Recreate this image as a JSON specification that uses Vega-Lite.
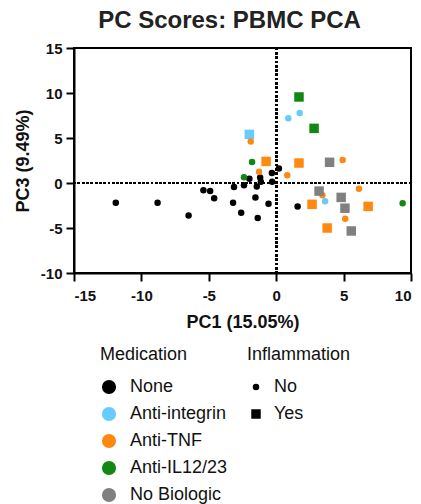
{
  "$schema": "https://vega.github.io/schema/vega-lite/v6.json",
  "autosize": {"type": "none"},
  "padding": {"left": 74, "top": 48, "right": 10, "bottom": 231},
  "width": 337,
  "height": 225,
  "title": {"text": "PC Scores: PBMC PCA", "font": "Liberation Sans", "fontSize": 24, "fontWeight": "bold", "color": "#222", "anchor": "middle", "dx": -13, "offset": 8},
  "config": {
    "view": {"stroke": "black", "strokeWidth": 2},
    "axis": {"domainColor": "black", "domainWidth": 2, "tickColor": "black", "tickWidth": 2, "tickSize": 8, "grid": false, "labelFont": "Liberation Sans", "labelFontSize": 15, "labelFontWeight": "bold", "labelColor": "#111", "titleFont": "Liberation Sans", "titleFontSize": 18, "titleFontWeight": "bold", "titleColor": "#111", "labelExpr": "datum.value"},
    "legend": {"titleFont": "Liberation Sans", "titleFontSize": 18, "titleFontWeight": "normal", "titleColor": "#111", "labelFont": "Liberation Sans", "labelFontSize": 18, "labelColor": "#111"}
  },
  "data": {"values": [
    {"PC1": -11.9, "PC3": -2.2, "Medication": "None", "Inflammation": "No"},
    {"PC1": -8.8, "PC3": -2.2, "Medication": "None", "Inflammation": "No"},
    {"PC1": -6.5, "PC3": -3.6, "Medication": "None", "Inflammation": "No"},
    {"PC1": -5.4, "PC3": -0.8, "Medication": "None", "Inflammation": "No"},
    {"PC1": -4.9, "PC3": -0.9, "Medication": "None", "Inflammation": "No"},
    {"PC1": -4.6, "PC3": -1.7, "Medication": "None", "Inflammation": "No"},
    {"PC1": -3.13, "PC3": -0.45, "Medication": "None", "Inflammation": "No"},
    {"PC1": -3.2, "PC3": -2.2, "Medication": "None", "Inflammation": "No"},
    {"PC1": -2.6, "PC3": -3.3, "Medication": "None", "Inflammation": "No"},
    {"PC1": -2.39, "PC3": -0.26, "Medication": "None", "Inflammation": "No"},
    {"PC1": -1.99, "PC3": 0.48, "Medication": "None", "Inflammation": "No"},
    {"PC1": -1.54, "PC3": -1.6, "Medication": "None", "Inflammation": "No"},
    {"PC1": -1.37, "PC3": -3.9, "Medication": "None", "Inflammation": "No"},
    {"PC1": -1.44, "PC3": -0.4, "Medication": "None", "Inflammation": "No"},
    {"PC1": -1.19, "PC3": 0.6, "Medication": "None", "Inflammation": "No"},
    {"PC1": -1.14, "PC3": 0.15, "Medication": "None", "Inflammation": "No"},
    {"PC1": -0.57, "PC3": -2.3, "Medication": "None", "Inflammation": "No"},
    {"PC1": -0.3, "PC3": 0.15, "Medication": "None", "Inflammation": "No"},
    {"PC1": -0.32, "PC3": 1.1, "Medication": "None", "Inflammation": "No"},
    {"PC1": 0.2, "PC3": 1.6, "Medication": "None", "Inflammation": "No"},
    {"PC1": 1.59, "PC3": -2.6, "Medication": "None", "Inflammation": "No"},
    {"PC1": -2.39, "PC3": 0.63, "Medication": "Anti-IL12/23", "Inflammation": "No"},
    {"PC1": -1.79, "PC3": 2.33, "Medication": "Anti-IL12/23", "Inflammation": "No"},
    {"PC1": 9.38, "PC3": -2.26, "Medication": "Anti-IL12/23", "Inflammation": "No"},
    {"PC1": 1.69, "PC3": 9.56, "Medication": "Anti-IL12/23", "Inflammation": "Yes"},
    {"PC1": 2.81, "PC3": 6.07, "Medication": "Anti-IL12/23", "Inflammation": "Yes"},
    {"PC1": 0.9, "PC3": 7.2, "Medication": "Anti-integrin", "Inflammation": "No"},
    {"PC1": 1.74, "PC3": 7.78, "Medication": "Anti-integrin", "Inflammation": "No"},
    {"PC1": 3.63, "PC3": -2.04, "Medication": "Anti-integrin", "Inflammation": "No"},
    {"PC1": -1.99, "PC3": 5.4, "Medication": "Anti-integrin", "Inflammation": "Yes"},
    {"PC1": -1.89, "PC3": 4.6, "Medication": "Anti-TNF", "Inflammation": "No"},
    {"PC1": -1.27, "PC3": 1.26, "Medication": "Anti-TNF", "Inflammation": "No"},
    {"PC1": 0.82, "PC3": 0.85, "Medication": "Anti-TNF", "Inflammation": "No"},
    {"PC1": 4.93, "PC3": 2.56, "Medication": "Anti-TNF", "Inflammation": "No"},
    {"PC1": 6.14, "PC3": -0.63, "Medication": "Anti-TNF", "Inflammation": "No"},
    {"PC1": 3.43, "PC3": -1.37, "Medication": "Anti-TNF", "Inflammation": "No"},
    {"PC1": 5.12, "PC3": -3.96, "Medication": "Anti-TNF", "Inflammation": "No"},
    {"PC1": -0.75, "PC3": 2.4, "Medication": "Anti-TNF", "Inflammation": "Yes"},
    {"PC1": 1.69, "PC3": 2.22, "Medication": "Anti-TNF", "Inflammation": "Yes"},
    {"PC1": 2.66, "PC3": -2.37, "Medication": "Anti-TNF", "Inflammation": "Yes"},
    {"PC1": 6.82, "PC3": -2.6, "Medication": "Anti-TNF", "Inflammation": "Yes"},
    {"PC1": 3.78, "PC3": -5.0, "Medication": "Anti-TNF", "Inflammation": "Yes"},
    {"PC1": 3.96, "PC3": 2.3, "Medication": "No Biologic", "Inflammation": "Yes"},
    {"PC1": 3.18, "PC3": -0.9, "Medication": "No Biologic", "Inflammation": "Yes"},
    {"PC1": 4.82, "PC3": -1.6, "Medication": "No Biologic", "Inflammation": "Yes"},
    {"PC1": 5.1, "PC3": -2.8, "Medication": "No Biologic", "Inflammation": "Yes"},
    {"PC1": 5.57, "PC3": -5.33, "Medication": "No Biologic", "Inflammation": "Yes"}
  ]},
  "layer": [
    {
      "mark": {"type": "rule", "color": "black", "strokeWidth": 2, "strokeDash": [2, 2.3]},
      "encoding": {"x": {"datum": 0, "type": "quantitative", "scale": {"domain": [-15, 10], "nice": false}}}
    },
    {
      "mark": {"type": "rule", "color": "black", "strokeWidth": 2, "strokeDash": [2, 2.3]},
      "encoding": {"y": {"datum": 0, "type": "quantitative", "scale": {"domain": [-10, 15], "nice": false}}}
    },
    {
      "mark": {"type": "point", "filled": true, "opacity": 1},
      "encoding": {
        "x": {"field": "PC1", "type": "quantitative", "scale": {"domain": [-15, 10], "nice": false}, "axis": {"values": [-15, -10, -5, 0, 5, 10], "title": "PC1 (15.05%)", "titlePadding": 10, "labelPadding": 7}},
        "y": {"field": "PC3", "type": "quantitative", "scale": {"domain": [-10, 15], "nice": false}, "axis": {"values": [-10, -5, 0, 5, 10, 15], "title": "PC3 (9.49%)", "titlePadding": 8, "labelPadding": 4}},
        "color": {"field": "Medication", "type": "nominal", "scale": {"domain": ["None", "Anti-integrin", "Anti-TNF", "Anti-IL12/23", "No Biologic"], "range": ["#000000", "#66CCFF", "#FF8811", "#118811", "#808080"]}, "legend": {"orient": "none", "legendX": 26, "legendY": 298, "symbolType": "circle", "symbolSize": 200, "symbolStrokeWidth": 0, "titlePadding": 14, "rowPadding": 9, "labelOffset": 12}},
        "shape": {"field": "Inflammation", "type": "nominal", "scale": {"domain": ["No", "Yes"], "range": ["circle", "square"]}, "legend": {"orient": "none", "legendX": 173, "legendY": 298, "symbolFillColor": "black", "symbolStrokeWidth": 0, "titlePadding": 14, "rowPadding": 9, "labelOffset": 9}},
        "size": {"field": "Inflammation", "type": "nominal", "scale": {"domain": ["No", "Yes"], "range": [42, 90]}, "legend": {"orient": "none", "legendX": 173, "legendY": 298, "symbolFillColor": "black", "symbolStrokeWidth": 0, "titlePadding": 14, "rowPadding": 9, "labelOffset": 9}}
      }
    }
  ]
}
